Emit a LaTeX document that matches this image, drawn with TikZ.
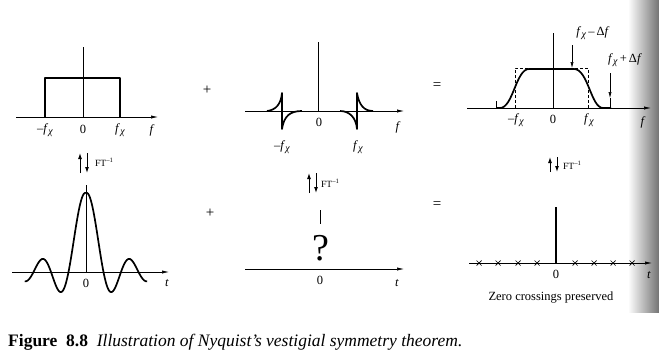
\documentclass[tikz,border=0pt]{standalone}
\usepackage{fontspec}
\setmainfont{Liberation Serif}
\usetikzlibrary{arrows.meta}
\newcommand\fc{\textit{f}\kern0.2pt\raisebox{-0.45ex}{\fontsize{10}{10}\selectfont\textit{χ}}}
\begin{document}
\begin{tikzpicture}[x=1pt,y=-1pt,
  axis/.style={line width=0.6pt,-{Latex[length=7pt,width=3.2pt]}},
  thinline/.style={line width=0.6pt},
  curve/.style={line width=1.7pt,line join=round},
  lbl/.style={font=\fontsize{12.5}{14}\selectfont,inner sep=0pt},
  opsign/.style={font=\fontsize{15}{16}\selectfont,inner sep=0pt},
  small/.style={font=\fontsize{9.5}{10}\selectfont,inner sep=0pt,anchor=west},
  ftarr/.style={line width=1pt,-{Latex[length=6pt,width=4pt]}},
  annarr/.style={line width=0.6pt,-{Latex[length=6pt,width=3.2pt]}},
  cross/.style={line width=0.7pt}]
\useasboundingbox (0,0) rectangle (659,356);
\shade[left color=white,right color=black!55] (628,0) rectangle (659,312);

% ---------- Panel 1: rectangle spectrum ----------
\coordinate (a1s) at (16,117); \coordinate (a1e) at (158,117);
\draw[axis] (a1s) -- (a1e);
\draw[thinline] (83,117) -- (83,47);
\draw[curve] (45,117) -- (45,78) -- (120,78) -- (120,117);
\node[lbl] (p1m) at (45,130) {–\fc};
\node[lbl] (p1z) at (83,129) {0};
\node[lbl] (p1p) at (120,130) {\fc};
\node[lbl] (p1f) at (152,130) {\textit{f}};
\node[opsign] (plus1) at (207,90) {+};
\coordinate (ft1u) at (80,173); \coordinate (ft1uu) at (80,153);
\coordinate (ft1d) at (87,153); \coordinate (ft1dd) at (87,173);
\draw[ftarr] (ft1u) -- (ft1uu);
\draw[ftarr] (ft1d) -- (ft1dd);
\node[small] (ft1) at (95,162) {FT\textsuperscript{–1}};

% ---------- Panel 2: odd vestigial term ----------
\draw[axis] (245,111) -- (404,111);
\draw[thinline] (318,111) -- (318,42);
\draw[curve] (267,111) .. controls (276,110) and (281,104) .. (282,93)
  -- (282,129) .. controls (284,116) and (290,111) .. (302,111);
\draw[curve] (340,111) .. controls (349,111) and (356,117) .. (357,129)
  -- (357,93) .. controls (359,105) and (364,111) .. (373,111);
\node[lbl] (p2z) at (319,122) {0};
\node[lbl] (p2m) at (282,147) {–\fc};
\node[lbl] (p2p) at (358,147) {\fc};
\node[lbl] (p2f) at (398,127) {\textit{f}};
\node[opsign] (eq1) at (437,86) {=};
\coordinate (ft2u) at (309,193); \coordinate (ft2uu) at (309,173);
\coordinate (ft2d) at (316,173); \coordinate (ft2dd) at (316,193);
\draw[ftarr] (ft2u) -- (ft2uu);
\draw[ftarr] (ft2d) -- (ft2dd);
\node[small] (ft2) at (321,183) {FT\textsuperscript{–1}};

% ---------- Panel 3: vestigial spectrum ----------
\draw[axis] (467,108) -- (651,108);
\draw[thinline] (553,108) -- (553,33);
\draw[thinline,dashed,dash pattern=on 3pt off 2pt] (515,108) -- (515,68) -- (588,68) -- (588,108);
\draw[thinline] (496,101) -- (496,108);
\draw[curve] (496,108) -- (500,108) .. controls (513,108) and (516,69) .. (529,69)
  -- (574,69) .. controls (588,69) and (591,108) .. (603,108) -- (611,108);
\node[lbl] (p3m) at (516,120) {–\fc};
\node[lbl] (p3z) at (553,119) {0};
\node[lbl] (p3p) at (589,120) {\fc};
\node[lbl] (p3f) at (643,122) {\textit{f}};
\node[lbl] (dm) at (593,33) {\fc\,–\,Δ\textit{f}};
\node[lbl] (dp) at (625,60) {\fc\,+\,Δ\textit{f}};
\coordinate (dma) at (572,45); \coordinate (dmb) at (572,68);
\draw[annarr] (dma) -- (dmb);
\coordinate (dpa) at (610,73); \coordinate (dpb) at (610,98);
\draw[annarr] (dpa) -- (dpb);
\draw[thinline] (610,98) -- (610,107);
\coordinate (ft3u) at (550,172); \coordinate (ft3uu) at (550,157);
\coordinate (ft3d) at (557,157); \coordinate (ft3dd) at (557,172);
\draw[ftarr] (ft3u) -- (ft3uu);
\draw[ftarr] (ft3d) -- (ft3dd);
\node[small] (ft3) at (563,165) {FT\textsuperscript{–1}};

% ---------- Panel 4: sinc pulse ----------
\draw[axis] (12,272) -- (169,272);
\draw[thinline] (86,272) -- (86,185);
\draw[curve,smooth] plot[domain=-3.5:3.5,samples=140]
  ({86+17.5*\x},{272-79*sin(180*\x)/(pi*\x)*(1+0.12*min(abs(\x),2.5))});
\node[lbl] (p4z) at (86,283) {0};
\node[lbl] (p4t) at (167,283) {\textit{t}};
\node[opsign] (plus2) at (210,213) {+};

% ---------- Panel 5: unknown ----------
\draw[axis] (245,269) -- (404,269);
\draw[thinline] (320,210) -- (320,224);
\node[inner sep=0pt,font=\fontsize{38}{40}\selectfont] (q) at (321,248) {?};
\node[lbl] (p5z) at (320,280) {0};
\node[lbl] (p5t) at (397,283) {\textit{t}};
\node[opsign] (eq2) at (437,205) {=};

% ---------- Panel 6: impulse with zero crossings ----------
\draw[axis] (469,263) -- (652,263);
\draw[line width=1.2pt] (556,263) -- (556,207);
\foreach \cx in {479,498,518,537,575,594,613,632}
  \draw[cross] (\cx-2.5,260.5) -- (\cx+2.5,265.5) (\cx-2.5,265.5) -- (\cx+2.5,260.5);
\node[lbl] (p6z) at (556,274) {0};
\node[lbl] (p6t) at (649,275) {\textit{t}};
\node[lbl,font=\fontsize{12.5}{14}\selectfont] (zc) at (551,298) {Zero crossings preserved};

% ---------- Caption ----------
\node[inner sep=0pt,anchor=base west,font=\fontsize{17.5}{19}\selectfont] (cap) at (8,346)
  {\textbf{Figure\ \ 8.8}\ \ \textit{Illustration of Nyquist’s vestigial symmetry theorem.}};
\end{tikzpicture}
\end{document}
